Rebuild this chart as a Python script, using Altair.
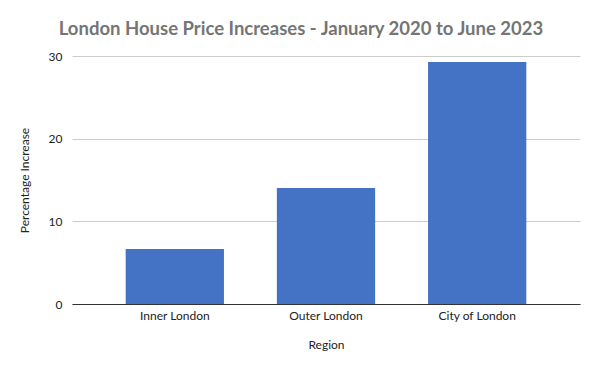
import altair as alt
import pandas as pd

regions = ["Inner London", "Outer London", "City of London"]
increases = [6.65, 14.03, 29.27]

df = pd.DataFrame({"Region": regions, "Increase": increases})

FONT = "Lato"

chart = alt.Chart(df).mark_bar(color="#4472C4").encode(
    x=alt.X(
        "Region:N",
        sort=regions,
        scale=alt.Scale(paddingInner=0.35, paddingOuter=0.355),
        axis=alt.Axis(
            title="Region",
            labelAngle=0,
            labelFontSize=12,
            labelColor="#222222",
            labelFont=FONT,
            labelPadding=6,
            ticks=False,
            domainColor="#333333",
            domainWidth=1,
            titleFontSize=12,
            titleFontWeight="normal",
            titleColor="#222222",
            titleFont=FONT,
            titlePadding=18,
            grid=False,
        ),
    ),
    y=alt.Y(
        "Increase:Q",
        scale=alt.Scale(domain=[0, 30], nice=False),
        axis=alt.Axis(
            title="Percentage Increase",
            values=[0, 10, 20, 30],
            labelFontSize=12,
            labelColor="#222222",
            labelFont=FONT,
            labelPadding=10,
            ticks=False,
            domain=False,
            gridColor="#CCCCCC",
            gridWidth=1,
            titleFontSize=12,
            titleFontWeight="normal",
            titleColor="#222222",
            titleFont=FONT,
            titlePadding=17,
        ),
    ),
).properties(
    width=508,
    height=248,
    title=alt.TitleParams(
        "London House Price Increases - January 2020 to June 2023",
        fontSize=18.5,
        font=FONT,
        fontWeight="bold",
        color="#757575",
        anchor="middle",
        dx=-25,
        offset=12,
    ),
    padding={"left": 64, "top": 48, "right": 10, "bottom": 50},
    autosize=alt.AutoSizeParams(type="none"),
).configure_view(stroke=None)

chart.save("out.html", embed_options={"renderer": "svg", "actions": False})
